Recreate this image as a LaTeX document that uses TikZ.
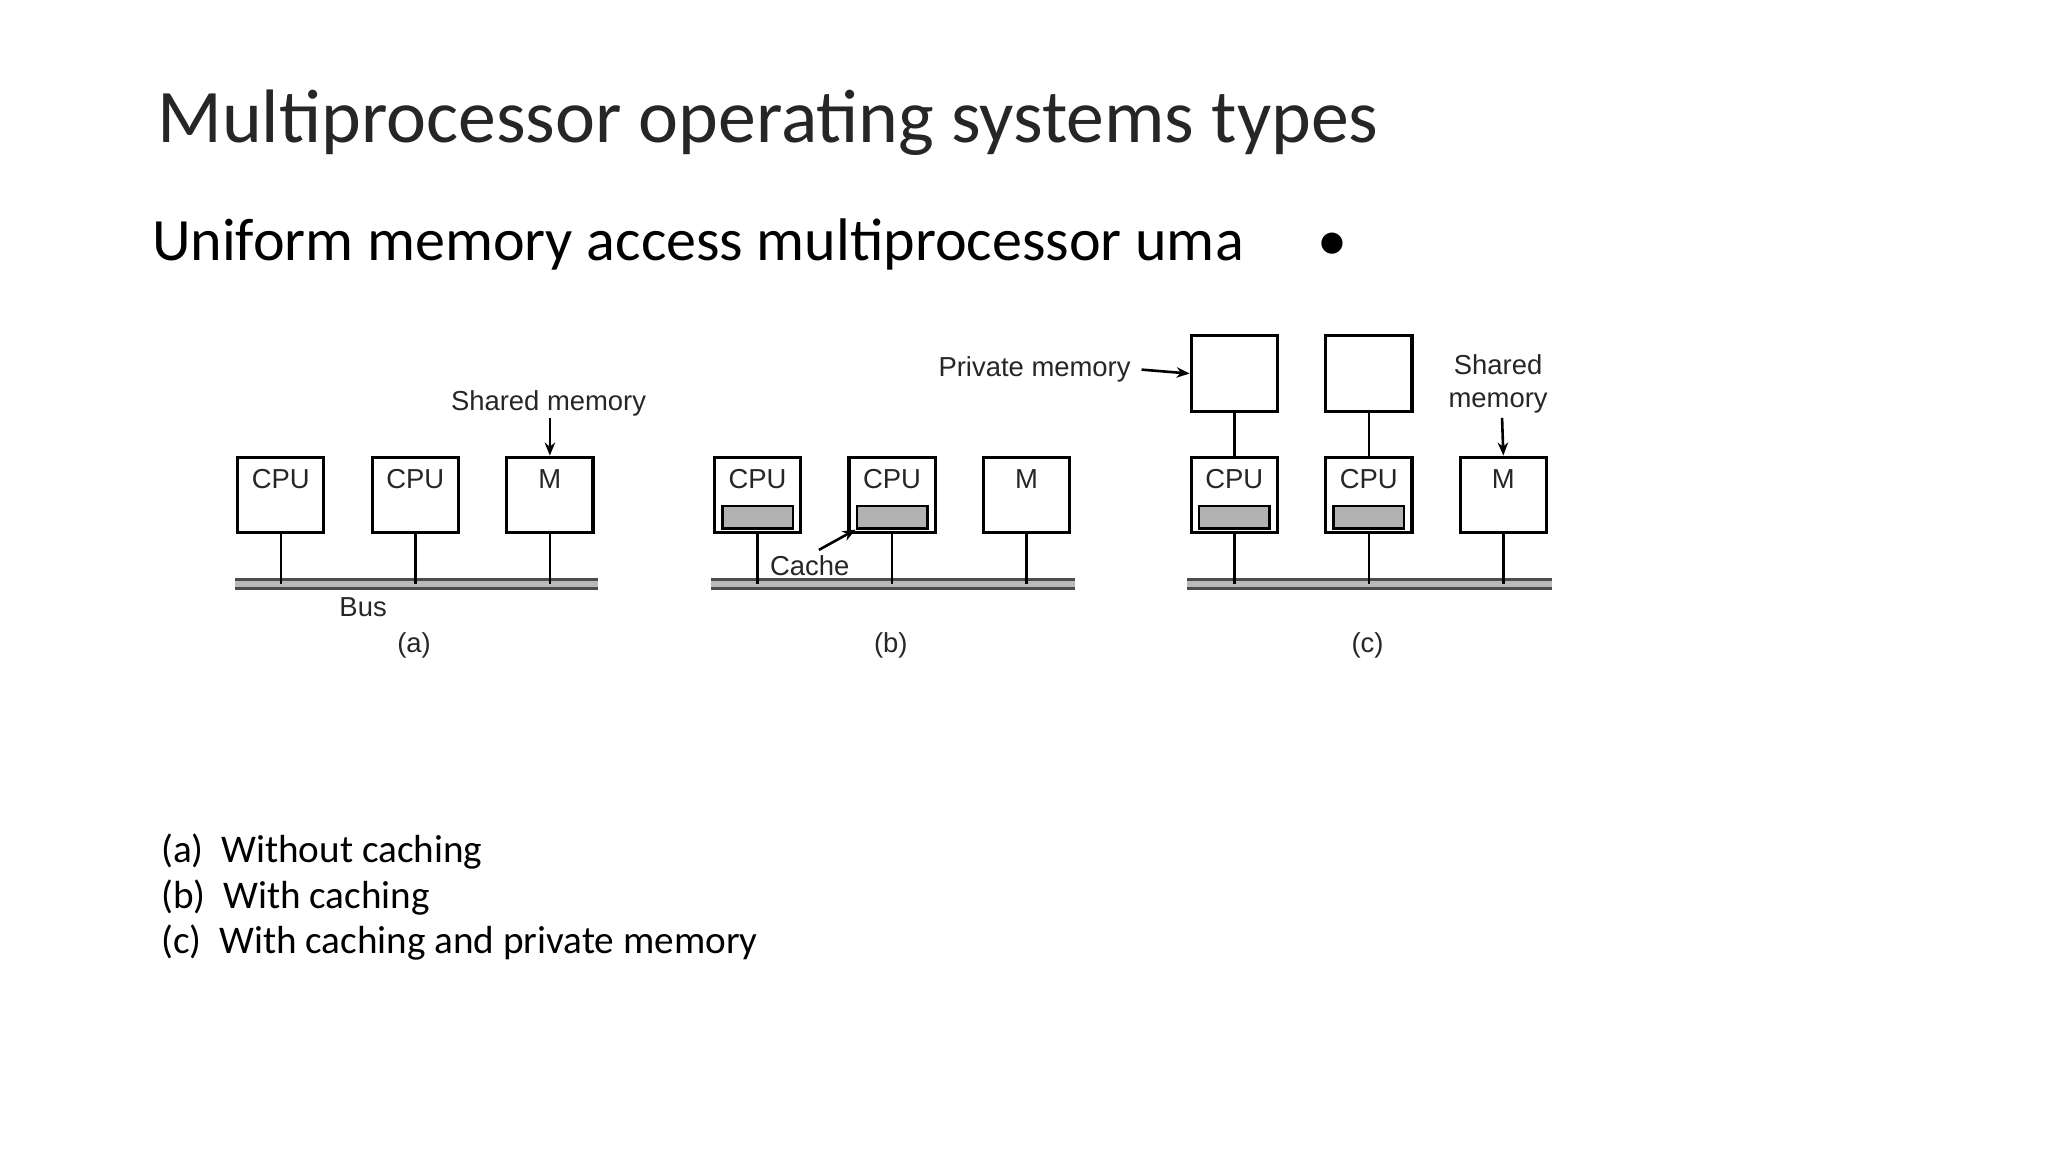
\documentclass[tikz,border=0pt]{standalone}
\usepackage{fontspec}
\setmainfont{Carlito}
\newfontfamily\arialf{Liberation Sans}
\usetikzlibrary{arrows.meta}
\begin{document}
\begin{tikzpicture}[x=0.5pt,y=-0.5pt,
 box/.style={draw,line width=1.2pt,minimum width=33pt,minimum height=29pt,inner sep=0pt},
 lab/.style={font=\arialf\fontsize{10.5}{12}\selectfont,text=black!85,inner sep=0pt},
 cache/.style={draw,line width=1pt,fill=gray!60,minimum width=27pt,minimum height=8.5pt,inner sep=0pt},
 wire/.style={line width=1pt},
 arr/.style={line width=1pt,-{Stealth[length=5pt,width=4pt]}},
 captxt/.style={font=\fontsize{15}{18}\selectfont,anchor=west,inner sep=0pt}]
\useasboundingbox (0,0) rectangle (1568,882);
\node[anchor=west,inner sep=0pt,font=\fontsize{29}{34}\selectfont,text=black!85] (t) at (120,94) {Multiprocessor operating systems types};
\node[anchor=west,inner sep=0pt,font=\fontsize{23}{28}\selectfont] (s) at (116,187) {Uniform memory access multiprocessor uma\quad\ •};
\newcommand\bus[3]{\draw[line width=4.5pt,black!70] (#1,447)--(#2,447); \draw[line width=2.5pt,gray!55] (#1,447)--(#2,447); \coordinate (#3) at (#1,447);}
% (a)
\bus{180}{458}{busa}
\foreach \n/\x/\t in {a1/215/CPU,a2/318/CPU,a3/421/M}{
 \node[box] (\n) at (\x,379) {};
 \node[lab] at (\x,367) {\t};
 \coordinate (\n b) at (\x,447);
 \draw[wire] (\n.south) -- (\n b);}
\node[lab] (sma) at (420,309) {Shared memory};
\draw[arr] (421,320) -- (a3.north);
\node[lab] (busl) at (278,465) {Bus};
\node[lab] (la) at (317,494) {(a)};
% (b)
\bus{544}{823}{busb}
\foreach \n/\x/\t in {b1/580/CPU,b2/683/CPU,b3/786/M}{
 \node[box] (\n) at (\x,379) {};
 \node[lab] at (\x,367) {\t};
 \coordinate (\n b) at (\x,447);
 \draw[wire] (\n.south) -- (\n b);}
\node[cache] (c1) at (580,396) {};
\node[cache] (c2) at (683,396) {};
\node[lab] (cl) at (620,433) {Cache};
\draw[arr] (627,421) -- (c2.south west);
\node[lab] (lb) at (682,494) {(b)};
% (c)
\bus{909}{1188}{busc}
\foreach \n/\x/\t in {d1/945/CPU,d2/1048/CPU,d3/1151/M}{
 \node[box] (\n) at (\x,379) {};
 \node[lab] at (\x,367) {\t};
 \coordinate (\n b) at (\x,447);
 \draw[wire] (\n.south) -- (\n b);}
\node[cache] (e1) at (945,396) {};
\node[cache] (e2) at (1048,396) {};
\node[box] (p1) at (945,286) {};
\node[box] (p2) at (1048,286) {};
\draw[wire] (p1) -- (d1);
\draw[wire] (p2) -- (d2);
\node[lab,anchor=east] (pm) at (866,283) {Private memory};
\draw[arr] (pm.east) ++(4pt,0) -- (p1.west);
\node[lab,align=center,font=\arialf\fontsize{10.5}{12.5}\selectfont] (smc) at (1147,294) {Shared\\memory};
\draw[arr] (1150,320) -- (d3.north);
\node[lab] (lc) at (1047,494) {(c)};
% captions
\node[captxt] (k1) at (123,652) {(a)\ \ Without caching};
\node[captxt] (k2) at (123,687) {(b)\ \ With caching};
\node[captxt] (k3) at (123,722) {(c)\ \ With caching and private memory};
\end{tikzpicture}
\end{document}
